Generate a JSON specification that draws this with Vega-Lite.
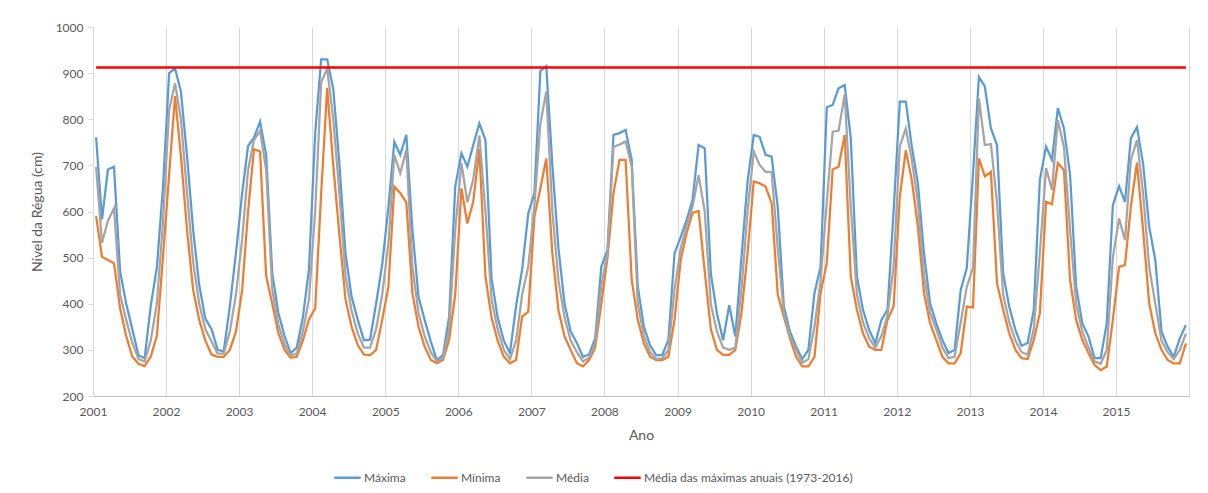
{
  "$schema": "https://vega.github.io/schema/vega-lite/v6.json",
  "width": 1096,
  "height": 369,
  "autosize": {"type": "none"},
  "padding": {"left": 93, "top": 27, "right": 19, "bottom": 97},
  "background": "white",
  "config": {"view": {"stroke": null}, "font": "Lato"},
  "datasets": {
    "mensal": [
      {"mes":"2001-01","Máxima":761,"Mínima":590,"Média":697},
      {"mes":"2001-02","Máxima":583,"Mínima":502,"Média":532},
      {"mes":"2001-03","Máxima":691,"Mínima":495,"Média":580},
      {"mes":"2001-04","Máxima":697,"Mínima":488,"Média":607},
      {"mes":"2001-05","Máxima":470,"Mínima":390,"Média":420},
      {"mes":"2001-06","Máxima":400,"Mínima":330,"Média":365},
      {"mes":"2001-07","Máxima":345,"Mínima":285,"Média":315},
      {"mes":"2001-08","Máxima":288,"Mínima":270,"Média":280},
      {"mes":"2001-09","Máxima":282,"Mínima":265,"Média":275},
      {"mes":"2001-10","Máxima":395,"Mínima":285,"Média":320},
      {"mes":"2001-11","Máxima":478,"Mínima":330,"Média":400},
      {"mes":"2001-12","Máxima":650,"Mínima":500,"Média":575},
      {"mes":"2002-01","Máxima":900,"Mínima":680,"Média":820},
      {"mes":"2002-02","Máxima":910,"Mínima":850,"Média":878},
      {"mes":"2002-03","Máxima":860,"Mínima":720,"Média":800},
      {"mes":"2002-04","Máxima":720,"Mínima":560,"Média":640},
      {"mes":"2002-05","Máxima":560,"Mínima":430,"Média":490},
      {"mes":"2002-06","Máxima":440,"Mínima":365,"Média":400},
      {"mes":"2002-07","Máxima":368,"Mínima":320,"Média":345},
      {"mes":"2002-08","Máxima":345,"Mínima":290,"Média":318},
      {"mes":"2002-09","Máxima":300,"Mínima":285,"Média":292},
      {"mes":"2002-10","Máxima":297,"Mínima":285,"Média":292},
      {"mes":"2002-11","Máxima":395,"Mínima":300,"Média":340},
      {"mes":"2002-12","Máxima":510,"Mínima":340,"Média":420},
      {"mes":"2003-01","Máxima":640,"Mínima":430,"Média":540},
      {"mes":"2003-02","Máxima":742,"Mínima":600,"Média":690},
      {"mes":"2003-03","Máxima":760,"Mínima":735,"Média":755},
      {"mes":"2003-04","Máxima":795,"Mínima":730,"Média":775},
      {"mes":"2003-05","Máxima":723,"Mínima":460,"Média":690},
      {"mes":"2003-06","Máxima":466,"Mínima":400,"Média":430},
      {"mes":"2003-07","Máxima":380,"Mínima":336,"Média":355},
      {"mes":"2003-08","Máxima":330,"Mínima":300,"Média":312},
      {"mes":"2003-09","Máxima":293,"Mínima":283,"Média":288},
      {"mes":"2003-10","Máxima":305,"Mínima":285,"Média":292},
      {"mes":"2003-11","Máxima":370,"Mínima":320,"Média":340},
      {"mes":"2003-12","Máxima":475,"Mínima":366,"Média":410},
      {"mes":"2004-01","Máxima":770,"Mínima":390,"Média":600},
      {"mes":"2004-02","Máxima":930,"Mínima":640,"Média":880},
      {"mes":"2004-03","Máxima":930,"Mínima":868,"Média":910},
      {"mes":"2004-04","Máxima":865,"Mínima":700,"Média":800},
      {"mes":"2004-05","Máxima":704,"Mínima":550,"Média":640},
      {"mes":"2004-06","Máxima":509,"Mínima":410,"Média":460},
      {"mes":"2004-07","Máxima":415,"Mínima":350,"Média":385},
      {"mes":"2004-08","Máxima":365,"Mínima":310,"Média":335},
      {"mes":"2004-09","Máxima":321,"Mínima":290,"Média":305},
      {"mes":"2004-10","Máxima":322,"Mínima":288,"Média":305},
      {"mes":"2004-11","Máxima":400,"Mínima":300,"Média":345},
      {"mes":"2004-12","Máxima":485,"Mínima":365,"Média":420},
      {"mes":"2005-01","Máxima":610,"Mínima":437,"Média":530},
      {"mes":"2005-02","Máxima":751,"Mínima":654,"Média":723},
      {"mes":"2005-03","Máxima":723,"Mínima":640,"Média":683},
      {"mes":"2005-04","Máxima":766,"Mínima":620,"Média":733},
      {"mes":"2005-05","Máxima":560,"Mínima":423,"Média":480},
      {"mes":"2005-06","Máxima":415,"Mínima":350,"Média":380},
      {"mes":"2005-07","Máxima":365,"Mínima":307,"Média":330},
      {"mes":"2005-08","Máxima":318,"Mínima":278,"Média":295},
      {"mes":"2005-09","Máxima":278,"Mínima":271,"Média":275},
      {"mes":"2005-10","Máxima":289,"Mínima":278,"Média":283},
      {"mes":"2005-11","Máxima":372,"Mínima":322,"Média":345},
      {"mes":"2005-12","Máxima":654,"Mínima":420,"Média":560},
      {"mes":"2006-01","Máxima":726,"Mínima":650,"Média":705},
      {"mes":"2006-02","Máxima":697,"Mínima":574,"Média":620},
      {"mes":"2006-03","Máxima":744,"Mínima":621,"Média":670},
      {"mes":"2006-04","Máxima":791,"Mínima":735,"Média":765},
      {"mes":"2006-05","Máxima":755,"Mínima":459,"Média":600},
      {"mes":"2006-06","Máxima":455,"Mínima":370,"Média":410},
      {"mes":"2006-07","Máxima":370,"Mínima":320,"Média":345},
      {"mes":"2006-08","Máxima":320,"Mínima":285,"Média":300},
      {"mes":"2006-09","Máxima":293,"Mínima":271,"Média":280},
      {"mes":"2006-10","Máxima":395,"Mínima":278,"Média":320},
      {"mes":"2006-11","Máxima":475,"Mínima":372,"Média":420},
      {"mes":"2006-12","Máxima":596,"Mínima":383,"Média":480},
      {"mes":"2007-01","Máxima":640,"Mínima":590,"Média":615},
      {"mes":"2007-02","Máxima":905,"Mínima":650,"Média":790},
      {"mes":"2007-03","Máxima":915,"Mínima":715,"Média":860},
      {"mes":"2007-04","Máxima":700,"Mínima":509,"Média":600},
      {"mes":"2007-05","Máxima":520,"Mínima":386,"Média":450},
      {"mes":"2007-06","Máxima":400,"Mínima":329,"Média":370},
      {"mes":"2007-07","Máxima":340,"Mínima":300,"Média":320},
      {"mes":"2007-08","Máxima":315,"Mínima":271,"Média":295},
      {"mes":"2007-09","Máxima":285,"Mínima":264,"Média":275},
      {"mes":"2007-10","Máxima":290,"Mínima":278,"Média":283},
      {"mes":"2007-11","Máxima":325,"Mínima":305,"Média":315},
      {"mes":"2007-12","Máxima":480,"Mínima":400,"Média":440},
      {"mes":"2008-01","Máxima":517,"Mínima":500,"Média":510},
      {"mes":"2008-02","Máxima":766,"Mínima":640,"Média":740},
      {"mes":"2008-03","Máxima":770,"Mínima":712,"Média":745},
      {"mes":"2008-04","Máxima":777,"Mínima":712,"Média":752},
      {"mes":"2008-05","Máxima":712,"Mínima":452,"Média":697},
      {"mes":"2008-06","Máxima":437,"Mínima":365,"Média":400},
      {"mes":"2008-07","Máxima":350,"Mínima":314,"Média":330},
      {"mes":"2008-08","Máxima":310,"Mínima":285,"Média":295},
      {"mes":"2008-09","Máxima":288,"Mínima":278,"Média":280},
      {"mes":"2008-10","Máxima":289,"Mínima":278,"Média":282},
      {"mes":"2008-11","Máxima":322,"Mínima":285,"Média":300},
      {"mes":"2008-12","Máxima":509,"Mínima":365,"Média":430},
      {"mes":"2009-01","Máxima":545,"Mínima":495,"Média":520},
      {"mes":"2009-02","Máxima":582,"Mínima":553,"Média":570},
      {"mes":"2009-03","Máxima":625,"Mínima":597,"Média":610},
      {"mes":"2009-04","Máxima":744,"Mínima":601,"Média":679},
      {"mes":"2009-05","Máxima":737,"Mínima":470,"Média":600},
      {"mes":"2009-06","Máxima":466,"Mínima":345,"Média":400},
      {"mes":"2009-07","Máxima":379,"Mínima":300,"Média":340},
      {"mes":"2009-08","Máxima":321,"Mínima":289,"Média":305},
      {"mes":"2009-09","Máxima":397,"Mínima":289,"Média":300},
      {"mes":"2009-10","Máxima":329,"Mínima":300,"Média":305},
      {"mes":"2009-11","Máxima":500,"Mínima":379,"Média":430},
      {"mes":"2009-12","Máxima":665,"Mínima":509,"Média":600},
      {"mes":"2010-01","Máxima":766,"Mínima":665,"Média":730},
      {"mes":"2010-02","Máxima":762,"Mínima":661,"Média":701},
      {"mes":"2010-03","Máxima":723,"Mínima":654,"Média":686},
      {"mes":"2010-04","Máxima":719,"Mínima":618,"Média":686},
      {"mes":"2010-05","Máxima":610,"Mínima":420,"Média":520},
      {"mes":"2010-06","Máxima":394,"Mínima":372,"Média":380},
      {"mes":"2010-07","Máxima":340,"Mínima":325,"Média":330},
      {"mes":"2010-08","Máxima":307,"Mínima":285,"Média":300},
      {"mes":"2010-09","Máxima":280,"Mínima":264,"Média":272},
      {"mes":"2010-10","Máxima":300,"Mínima":264,"Média":280},
      {"mes":"2010-11","Máxima":423,"Mínima":285,"Média":350},
      {"mes":"2010-12","Máxima":480,"Mínima":423,"Média":450},
      {"mes":"2011-01","Máxima":826,"Mínima":488,"Média":620},
      {"mes":"2011-02","Máxima":831,"Mínima":691,"Média":773},
      {"mes":"2011-03","Máxima":867,"Mínima":697,"Média":775},
      {"mes":"2011-04","Máxima":874,"Mínima":766,"Média":853},
      {"mes":"2011-05","Máxima":759,"Mínima":459,"Média":611},
      {"mes":"2011-06","Máxima":459,"Mínima":387,"Média":420},
      {"mes":"2011-07","Máxima":387,"Mínima":336,"Média":360},
      {"mes":"2011-08","Máxima":343,"Mínima":307,"Média":325},
      {"mes":"2011-09","Máxima":314,"Mínima":300,"Média":305},
      {"mes":"2011-10","Máxima":365,"Mínima":300,"Média":330},
      {"mes":"2011-11","Máxima":387,"Mínima":365,"Média":375},
      {"mes":"2011-12","Máxima":600,"Mínima":394,"Média":480},
      {"mes":"2012-01","Máxima":838,"Mínima":632,"Média":741},
      {"mes":"2012-02","Máxima":838,"Mínima":733,"Média":780},
      {"mes":"2012-03","Máxima":741,"Mínima":668,"Média":712},
      {"mes":"2012-04","Máxima":661,"Mínima":567,"Média":620},
      {"mes":"2012-05","Máxima":509,"Mínima":423,"Média":460},
      {"mes":"2012-06","Máxima":401,"Mínima":358,"Média":380},
      {"mes":"2012-07","Máxima":358,"Mínima":322,"Média":345},
      {"mes":"2012-08","Máxima":321,"Mínima":285,"Média":305},
      {"mes":"2012-09","Máxima":293,"Mínima":271,"Média":282},
      {"mes":"2012-10","Máxima":300,"Mínima":271,"Média":285},
      {"mes":"2012-11","Máxima":430,"Mínima":293,"Média":360},
      {"mes":"2012-12","Máxima":478,"Mínima":394,"Média":437},
      {"mes":"2013-01","Máxima":683,"Mínima":392,"Média":478},
      {"mes":"2013-02","Máxima":892,"Mínima":715,"Média":845},
      {"mes":"2013-03","Máxima":871,"Mínima":676,"Média":744},
      {"mes":"2013-04","Máxima":780,"Mínima":686,"Média":746},
      {"mes":"2013-05","Máxima":744,"Mínima":444,"Média":618},
      {"mes":"2013-06","Máxima":466,"Mínima":387,"Média":420},
      {"mes":"2013-07","Máxima":394,"Mínima":336,"Média":360},
      {"mes":"2013-08","Máxima":343,"Mínima":300,"Média":320},
      {"mes":"2013-09","Máxima":309,"Mínima":282,"Média":295},
      {"mes":"2013-10","Máxima":315,"Mínima":280,"Média":290},
      {"mes":"2013-11","Máxima":386,"Mínima":321,"Média":345},
      {"mes":"2013-12","Máxima":668,"Mínima":379,"Média":510},
      {"mes":"2014-01","Máxima":741,"Mínima":621,"Média":694},
      {"mes":"2014-02","Máxima":712,"Mínima":616,"Média":647},
      {"mes":"2014-03","Máxima":824,"Mínima":705,"Média":798},
      {"mes":"2014-04","Máxima":780,"Mínima":690,"Média":740},
      {"mes":"2014-05","Máxima":680,"Mínima":452,"Média":560},
      {"mes":"2014-06","Máxima":437,"Mínima":365,"Média":400},
      {"mes":"2014-07","Máxima":358,"Mínima":322,"Média":340},
      {"mes":"2014-08","Máxima":329,"Mínima":293,"Média":305},
      {"mes":"2014-09","Máxima":282,"Mínima":267,"Média":275},
      {"mes":"2014-10","Máxima":282,"Mínima":256,"Média":270},
      {"mes":"2014-11","Máxima":358,"Mínima":264,"Média":300},
      {"mes":"2014-12","Máxima":614,"Mínima":365,"Média":500},
      {"mes":"2015-01","Máxima":655,"Mínima":480,"Média":585},
      {"mes":"2015-02","Máxima":621,"Mínima":484,"Média":538},
      {"mes":"2015-03","Máxima":759,"Mínima":611,"Média":712},
      {"mes":"2015-04","Máxima":783,"Mínima":706,"Média":755},
      {"mes":"2015-05","Máxima":704,"Mínima":560,"Média":640},
      {"mes":"2015-06","Máxima":567,"Mínima":401,"Média":480},
      {"mes":"2015-07","Máxima":495,"Mínima":336,"Média":400},
      {"mes":"2015-08","Máxima":340,"Mínima":300,"Média":320},
      {"mes":"2015-09","Máxima":307,"Mínima":278,"Média":295},
      {"mes":"2015-10","Máxima":285,"Mínima":271,"Média":280},
      {"mes":"2015-11","Máxima":325,"Mínima":271,"Média":300},
      {"mes":"2015-12","Máxima":354,"Mínima":314,"Média":335}
    ],
    "referencia": [
      {"mes":"2001-01","serie":"Média das máximas anuais (1973-2016)","valor":912},
      {"mes":"2015-12","serie":"Média das máximas anuais (1973-2016)","valor":912}
    ]
  },
  "encoding": {
    "x": {
      "field": "mes",
      "type": "temporal",
      "timeUnit": "utcyearmonth",
      "bandPosition": 0.5,
      "title": "Ano",
      "scale": {
        "type": "utc",
        "domain": [
          {"year": 2001, "month": 1, "date": 1, "utc": true},
          {"year": 2016, "month": 1, "date": 1, "utc": true}
        ]
      },
      "axis": {
        "values": [
          {"year": 2001, "month": 1, "date": 1, "utc": true},
          {"year": 2002, "month": 1, "date": 1, "utc": true},
          {"year": 2003, "month": 1, "date": 1, "utc": true},
          {"year": 2004, "month": 1, "date": 1, "utc": true},
          {"year": 2005, "month": 1, "date": 1, "utc": true},
          {"year": 2006, "month": 1, "date": 1, "utc": true},
          {"year": 2007, "month": 1, "date": 1, "utc": true},
          {"year": 2008, "month": 1, "date": 1, "utc": true},
          {"year": 2009, "month": 1, "date": 1, "utc": true},
          {"year": 2010, "month": 1, "date": 1, "utc": true},
          {"year": 2011, "month": 1, "date": 1, "utc": true},
          {"year": 2012, "month": 1, "date": 1, "utc": true},
          {"year": 2013, "month": 1, "date": 1, "utc": true},
          {"year": 2014, "month": 1, "date": 1, "utc": true},
          {"year": 2015, "month": 1, "date": 1, "utc": true},
          {"year": 2016, "month": 1, "date": 1, "utc": true}
        ],
        "format": "%Y",
        "labelExpr": "utcyear(datum.value) > 2015 ? '' : datum.label",
        "grid": true,
        "gridColor": "#d9d9d9",
        "gridWidth": 1,
        "domainColor": "#bfbfbf",
        "ticks": false,
        "labelFlush": false,
        "labelColor": "#595959",
        "labelFontSize": 12,
        "labelPadding": 10,
        "titleColor": "#595959",
        "titleFontSize": 14,
        "titleFontWeight": "normal",
        "titlePadding": 11
      }
    },
    "y": {
      "field": "valor",
      "type": "quantitative",
      "title": "Nível da Régua (cm)",
      "scale": {"domain": [200, 1000], "nice": false, "zero": false},
      "axis": {
        "values": [200, 300, 400, 500, 600, 700, 800, 900, 1000],
        "format": "d",
        "grid": false,
        "domainColor": "#d9d9d9",
        "tickColor": "#d9d9d9",
        "tickSize": 5,
        "labelPadding": 5,
        "labelColor": "#595959",
        "labelFontSize": 12,
        "titleColor": "#595959",
        "titleFontSize": 14,
        "titleFontWeight": "normal",
        "titlePadding": 11
      }
    },
    "color": {
      "field": "serie",
      "type": "nominal",
      "scale": {
        "domain": ["Máxima", "Mínima", "Média", "Média das máximas anuais (1973-2016)"],
        "range": ["#5b9bd5", "#ed7d31", "#a5a5a5", "#ff0000"]
      },
      "legend": {
        "orient": "none",
        "legendX": 240,
        "legendY": 436,
        "direction": "horizontal",
        "title": null,
        "symbolType": "stroke",
        "symbolSize": 700,
        "symbolStrokeWidth": 2.5,
        "labelFontSize": 12,
        "labelColor": "#595959",
        "labelLimit": 0,
        "labelOffset": 2,
        "columnPadding": 20
      }
    }
  },
  "layer": [
    {
      "data": {"name": "mensal"},
      "transform": [{"fold": ["Máxima", "Mínima", "Média"], "as": ["serie", "valor"]}],
      "mark": {"type": "line", "strokeWidth": 2.25}
    },
    {
      "data": {"name": "referencia"},
      "mark": {"type": "line", "strokeWidth": 2.5}
    }
  ]
}
